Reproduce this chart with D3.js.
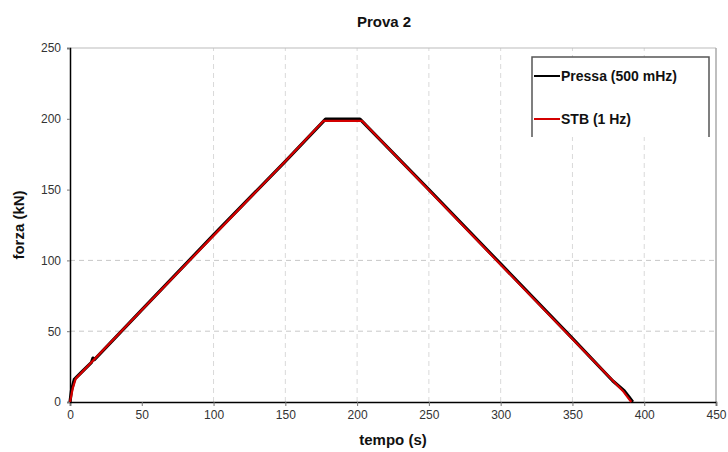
<!DOCTYPE html>
<html><head><meta charset="utf-8">
<script src="https://cdn.jsdelivr.net/npm/d3@7"></script>
<style>body{margin:0;background:#fff}svg{display:block}text{font-family:"Liberation Sans",Arial,sans-serif}</style>
</head><body>
<script>
const pressaT = [0, 1, 3, 8, 15, 16, 17, 50, 100, 150, 178, 202, 250, 300, 350, 378, 382, 386, 389, 392];
const pressaF = [0, 8, 16, 21, 28, 31, 30, 65, 118, 170, 199.8, 199.8, 150, 97.5, 45, 15, 11.5, 8, 4, 0];
const stbT = [0, 2, 4, 50, 100, 150, 176.5, 203.5, 250, 300, 350, 385, 388, 391];
const stbF = [0, 10, 16.5, 65, 117.5, 170, 198.5, 198.5, 149.5, 97, 44.5, 8, 4, 0];
const xTicks = [0, 50, 100, 150, 200, 250, 300, 350, 400, 450];
const yTicks = [0, 50, 100, 150, 200, 250];
const xGrid = [100, 150, 200, 250, 300, 350, 400];
const yGrid = [50, 100];
const seriesNames = ["Pressa (500 mHz)", "STB (1 Hz)"];
const seriesColors = ["#000000", "#d40000"];

const W = 728, H = 452;
const m = {l: 70, r: 12, t: 48, b: 50};
const svg = d3.select("body").append("svg").attr("width", W).attr("height", H);
const x = d3.scaleLinear().domain([0, 450]).range([m.l, W - m.r]);
const y = d3.scaleLinear().domain([0, 250]).range([H - m.b, m.t]);

// gridlines
svg.append("g").selectAll("line").data(xGrid).join("line")
  .attr("x1", d => x(d)).attr("x2", d => x(d)).attr("y1", y(0)).attr("y2", y(250))
  .attr("stroke", "#d9d9d9").attr("stroke-dasharray", "5,4").attr("stroke-width", 1);
svg.append("g").selectAll("line").data(yGrid).join("line")
  .attr("x1", x(0)).attr("x2", x(450)).attr("y1", d => y(d)).attr("y2", d => y(d))
  .attr("stroke", "#c8c8c8").attr("stroke-dasharray", "5,4").attr("stroke-width", 1);

// frame top/right
svg.append("line").attr("x1", x(0)).attr("x2", x(450)).attr("y1", y(250)).attr("y2", y(250)).attr("stroke", "#bbb");
svg.append("line").attr("x1", x(450)).attr("x2", x(450)).attr("y1", y(250)).attr("y2", y(0)).attr("stroke", "#aaa").attr("stroke-width", 1.5);

// axes
const xAxis = svg.append("g").attr("transform", `translate(0,${y(0)})`)
  .call(d3.axisBottom(x).tickValues(xTicks).tickSize(4).tickPadding(4));
const yAxis = svg.append("g").attr("transform", `translate(${x(0)},0)`)
  .call(d3.axisLeft(y).tickValues(yTicks).tickSize(3).tickPadding(6));
[xAxis, yAxis].forEach(a => {
  a.select(".domain").attr("stroke", "#000").attr("stroke-width", 1.5);
  a.selectAll(".tick line").attr("stroke", "#777");
  a.selectAll(".tick text").attr("font-size", 12).attr("fill", "#333")
    .attr("font-family", '"Liberation Sans",Arial,sans-serif');
});

// lines
const line = d3.line().x(d => x(d[0])).y(d => y(d[1]));
const pressa = pressaT.map((t, i) => [t, pressaF[i]]);
const stb = stbT.map((t, i) => [t, stbF[i]]);
svg.append("path").datum(pressa).attr("d", line).attr("fill", "none")
  .attr("stroke", seriesColors[0]).attr("stroke-width", 3.2).attr("stroke-linejoin", "round");
svg.append("path").datum(stb).attr("d", line).attr("fill", "none")
  .attr("stroke", seriesColors[1]).attr("stroke-width", 2.2).attr("stroke-linejoin", "round");

// titles
svg.append("text").attr("x", 384).attr("y", 27).attr("text-anchor", "middle")
  .attr("font-size", 15).attr("font-weight", "bold").attr("fill", "#111").text("Prova 2");
svg.append("text").attr("x", 393).attr("y", 445).attr("text-anchor", "middle")
  .attr("font-size", 15).attr("font-weight", "bold").attr("fill", "#111").text("tempo (s)");
svg.append("text").attr("transform", "translate(24,225) rotate(-90)").attr("text-anchor", "middle")
  .attr("font-size", 15).attr("font-weight", "bold").attr("fill", "#111").text("forza (kN)");

// legend
const lg = svg.append("g");
lg.append("rect").attr("x", 532).attr("y", 57).attr("width", 177).attr("height", 80).attr("fill", "#fff");
lg.append("path").attr("d", "M532,137V57H709V137").attr("fill", "none").attr("stroke", "#555").attr("stroke-width", 1.5);
seriesNames.forEach((n, i) => {
  const yy = 76 + i * 43;
  lg.append("line").attr("x1", 534).attr("x2", 560).attr("y1", yy).attr("y2", yy)
    .attr("stroke", seriesColors[i]).attr("stroke-width", 2);
  lg.append("text").attr("x", 561).attr("y", yy + 5).attr("font-size", 14).attr("font-weight", "bold")
    .attr("fill", "#111").text(n);
});
</script>
</body></html>
